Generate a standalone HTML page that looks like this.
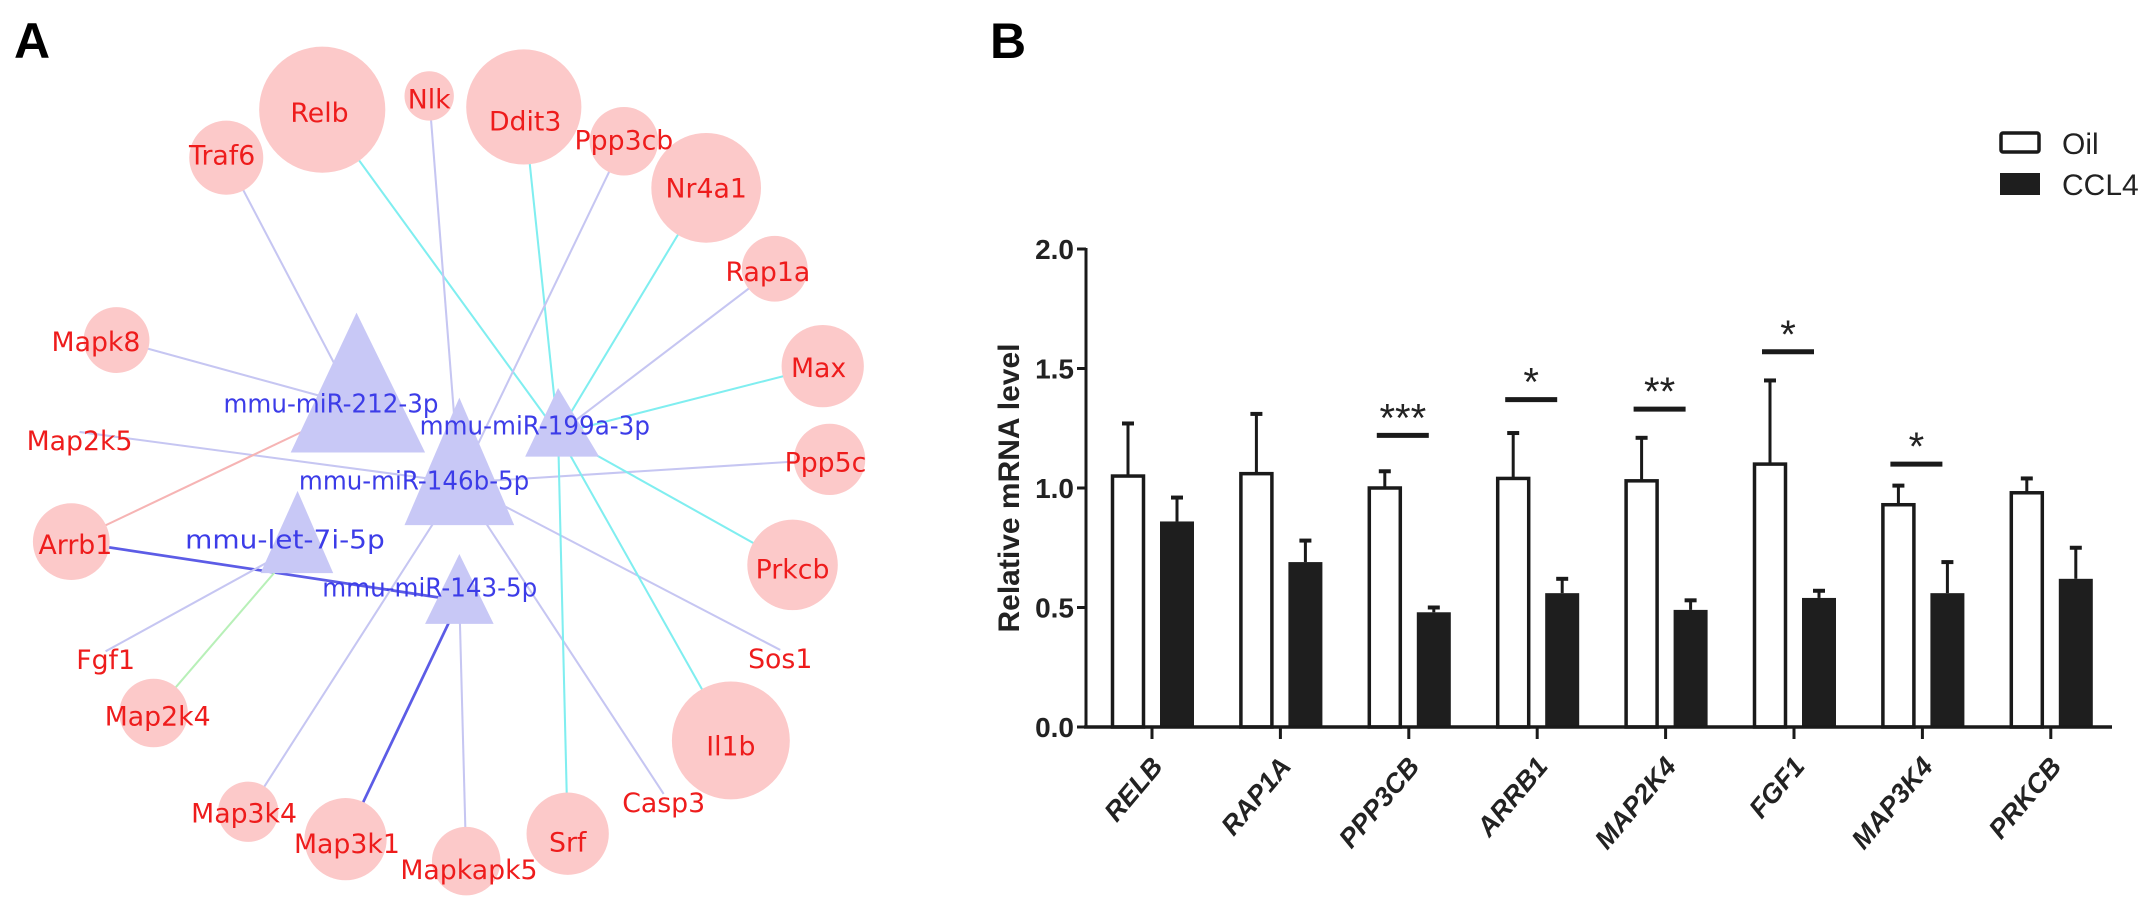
<!DOCTYPE html>
<html><head><meta charset="utf-8"><style>
html,body{margin:0;padding:0;background:#fff;}
svg{display:block;}
</style></head><body>
<svg id="fig" width="2150" height="911" viewBox="0 0 2150 911" xmlns="http://www.w3.org/2000/svg">
<text x="14" y="58" font-family="Liberation Sans, sans-serif" font-weight="bold" font-size="50">A</text>
<text x="990" y="58" font-family="Liberation Sans, sans-serif" font-weight="bold" font-size="50">B</text>
<g id="net" transform="scale(1.3712)"></g>
<g id="chart"></g>
</svg>
<script>
const NS='http://www.w3.org/2000/svg';
function mk(tag,attrs,parent){const e=document.createElementNS(NS,tag);for(const k in attrs)e.setAttribute(k,attrs[k]);parent.appendChild(e);return e;}

/* ---------- Panel A network ---------- */
const net=document.getElementById('net');
const genes=[
 ['Relb',235,80,46,233,82],['Nlk',313,70,18,313,72],['Ddit3',382,78,42,383,88],
 ['Traf6',165,115,27,162,113],['Ppp3cb',455,103,25,455,102],['Nr4a1',515,137,40,515,137],
 ['Rap1a',565,196,24,560,198],['Mapk8',85,248,24,70,249],['Max',600,267,30,597,268],
 ['Map2k5',null,null,0,58,321],['Ppp5c',605,335,26,602,337],['Arrb1',52,395,28,55,397],
 ['Prkcb',578,412,33,578,415],['Fgf1',null,null,0,77,481],['Sos1',null,null,0,569,480],
 ['Map2k4',112,520,25,115,522],['Il1b',533,540,43,533,544],['Map3k4',181,592,22,178,593],
 ['Casp3',null,null,0,484,585],['Srf',414,608,30,414,614],['Map3k1',252,612,30,253,615],
 ['Mapkapk5',340,628,25,342,634]
];
const mirs={
 'mmu-miR-212-3p':[260,228,212,310,330,163,301],
 'mmu-miR-199a-3p':[407,283,383,437,333,306,317],
 'mmu-miR-146b-5p':[335,290,295,375,383,218,357],
 'mmu-let-7i-5p':[217,358,190,243,418,135,400],
 'mmu-miR-143-5p':[335,404,310,360,455,235,435]
};
const C={lav:'#c6c6f2',cyan:'#80eef0',blue:'#5c5ce6',pink:'#f6b4b4',green:'#b8f0b8'};
const edges=[
 ['Relb','mmu-miR-199a-3p','cyan'],['Traf6','mmu-miR-212-3p','lav'],['Nlk','mmu-miR-146b-5p','lav'],
 ['Ddit3','mmu-miR-199a-3p','cyan'],['Ppp3cb','mmu-miR-146b-5p','lav'],['Nr4a1','mmu-miR-199a-3p','cyan'],
 ['Rap1a','mmu-miR-199a-3p','lav'],['Mapk8','mmu-miR-212-3p','lav'],['Max','mmu-miR-199a-3p','cyan'],
 ['Map2k5','mmu-miR-146b-5p','lav'],['Ppp5c','mmu-miR-146b-5p','lav'],['Arrb1','mmu-miR-212-3p','pink'],
 ['Arrb1','mmu-miR-143-5p','blue'],['Prkcb','mmu-miR-199a-3p','cyan'],['Fgf1','mmu-let-7i-5p','lav'],
 ['Sos1','mmu-miR-146b-5p','lav'],['Map2k4','mmu-let-7i-5p','green'],['Il1b','mmu-miR-199a-3p','cyan'],
 ['Map3k4','mmu-miR-146b-5p','lav'],['Casp3','mmu-miR-146b-5p','lav'],['Srf','mmu-miR-199a-3p','cyan'],
 ['Map3k1','mmu-miR-143-5p','blue'],['Mapkapk5','mmu-miR-143-5p','lav']
];
const gpos={};genes.forEach(g=>{gpos[g[0]]=g[1]!==null?[g[1],g[2]]:[g[4],g[5]-6];});
function mpos(m){const t=mirs[m];return [t[0],(t[1]+t[4]*2)/3];}
edges.forEach(e=>{const a=gpos[e[0]],b=mpos(e[1]);
 const l=mk('line',{x1:a[0],y1:a[1],x2:b[0],y2:b[1],stroke:C[e[2]],'stroke-width':e[2]==='blue'?2:1.5},net);
 
 });
genes.forEach(g=>{if(g[1]!==null){const c=mk('circle',{cx:g[1],cy:g[2],r:g[3],fill:'#fcc9c9'},net);
 
 }});
Object.keys(mirs).forEach(m=>{const t=mirs[m];
 const p=mk('polygon',{points:`${t[0]},${t[1]} ${t[2]},${t[4]} ${t[3]},${t[4]}`,fill:'#c8c8f6'},net);
 
 });
Object.keys(mirs).forEach(m=>{const t=mirs[m];
 const tx=mk('text',{x:t[5],y:t[6],'font-family':'DejaVu Sans, sans-serif','font-size':19,fill:'#3c3ce8',textLength:(m.length*11.2),lengthAdjust:'spacingAndGlyphs'},net);
 tx.textContent=m;
 
 });
genes.forEach(g=>{const tx=mk('text',{x:g[4],y:g[5]+7,'text-anchor':'middle','font-family':'DejaVu Sans, sans-serif','font-size':19.5,fill:'#ee1c1c'},net);
 tx.textContent=g[0];
 
 });

/* ---------- Panel B bar chart ---------- */
const categories=['RELB','RAP1A','PPP3CB','ARRB1','MAP2K4','FGF1','MAP3K4','PRKCB'];
const oilMean=[1.05,1.06,1.00,1.04,1.03,1.10,0.93,0.98];
const oilErr=[0.22,0.25,0.07,0.19,0.18,0.35,0.08,0.06];
const cclMean=[0.86,0.69,0.48,0.56,0.49,0.54,0.56,0.62];
const cclErr=[0.10,0.09,0.02,0.06,0.04,0.03,0.13,0.13];
const sigLabels=['','','***','*','**','*','*',''];
const sigLevel=[0,0,1.22,1.37,1.33,1.57,1.10,0];
const yTicks=[0,0.5,1.0,1.5,2.0];
const yTickLabels=['0.0','0.5','1.0','1.5','2.0'];

const ch=document.getElementById('chart');
const y0=727,yScale=239,x0=1152,step=128.4,bw=34;
const Y=v=>y0-v*yScale, X=i=>x0+i*step;
const F='Liberation Sans, Arial, sans-serif';
let a=mk('line',{x1:1086,y1:Y(2)-1,x2:1086,y2:y0,stroke:'#1a1a1a','stroke-width':3},ch);

yTicks.forEach((t,i)=>{mk('line',{x1:1077,y1:Y(t),x2:1086,y2:Y(t),stroke:'#1a1a1a','stroke-width':3},ch);
 const tx=mk('text',{x:1074,y:Y(t)+10,'text-anchor':'end','font-family':F,'font-weight':'bold','font-size':28,fill:'#222'},ch);
 tx.textContent=yTickLabels[i];
 
 });
let yt=mk('text',{x:0,y:0,transform:'translate(1019,488) rotate(-90)','text-anchor':'middle','font-family':F,'font-weight':'bold','font-size':30,fill:'#222'},ch);
yt.textContent='Relative mRNA level';

categories.forEach((c,i)=>{
 const cx=X(i), wx=cx-24, bx=cx+25;
 [[wx,oilMean[i],oilErr[i]],[bx,cclMean[i],cclErr[i]]].forEach(e=>{
  mk('line',{x1:e[0],y1:Y(e[1]),x2:e[0],y2:Y(e[1]+e[2]),stroke:'#1a1a1a','stroke-width':3},ch);
  mk('line',{x1:e[0]-6,y1:Y(e[1]+e[2]),x2:e[0]+6,y2:Y(e[1]+e[2]),stroke:'#1a1a1a','stroke-width':4},ch);});
 const r1=mk('rect',{x:wx-bw/2+1.5,y:Y(oilMean[i]),width:bw-3,height:Y(0)-Y(oilMean[i]),fill:'#fff',stroke:'#1a1a1a','stroke-width':3.5},ch);
 
 
 const r2=mk('rect',{x:bx-bw/2,y:Y(cclMean[i]),width:bw,height:Y(0)-Y(cclMean[i]),fill:'#1e1e1e'},ch);
 
 
 mk('line',{x1:cx,y1:y0,x2:cx,y2:y0+12,stroke:'#1a1a1a','stroke-width':3},ch);
 const tx=mk('text',{x:0,y:0,transform:`translate(${cx+12},${y0+40}) rotate(-50)`,'text-anchor':'end','font-family':F,'font-weight':'bold','font-style':'italic','font-size':27,fill:'#222'},ch);
 tx.textContent=c;
 
 
 if(sigLabels[i]){
  const ly=Y(sigLevel[i]);
  const sl=mk('line',{x1:cx-32,y1:ly,x2:cx+20,y2:ly,stroke:'#1a1a1a','stroke-width':5},ch);
  
  
  const st=mk('text',{x:cx-6,y:ly-4,'text-anchor':'middle','font-family':F,'font-size':40,fill:'#222'},ch);
  st.textContent=sigLabels[i];
  
  }
});
let xa=mk('line',{x1:1084,y1:y0,x2:2112,y2:y0,stroke:'#1a1a1a','stroke-width':3.5},ch);

let lg=mk('g',{},ch);
let lb1=mk('rect',{x:2001,y:133,width:38,height:19,fill:'#fff',stroke:'#1a1a1a','stroke-width':3.5,rx:2},lg);

let lt1=mk('text',{x:2062,y:154,'font-family':F,'font-size':30,fill:'#222'},lg);lt1.textContent='Oil';

let lb2=mk('rect',{x:2000,y:173,width:40,height:22,fill:'#1e1e1e'},lg);

let lt2=mk('text',{x:2062,y:195,'font-family':F,'font-size':30,fill:'#222'},lg);lt2.textContent='CCL4';

</script>
</body></html>
